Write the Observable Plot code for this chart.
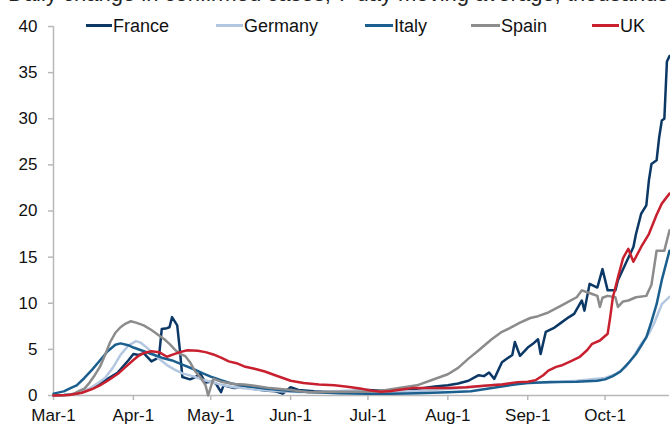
<!DOCTYPE html>
<html>
<head>
<meta charset="utf-8">
<script src="https://cdn.jsdelivr.net/npm/d3@7"></script>
<script src="https://cdn.jsdelivr.net/npm/@observablehq/plot@0.6"></script>
<style>
  html, body { margin: 0; padding: 0; background: #fff; overflow: hidden; }
  #wrap { position: relative; width: 670px; height: 426px; overflow: hidden; font-family: "Liberation Sans", Arial, sans-serif; }
  #title { position: absolute; left: 8px; top: -19px; font-size: 22px; line-height: 25px; color: #222; white-space: nowrap; }
  .leg { position: absolute; top: 16px; font-size: 18px; line-height: 20px; color: #111; white-space: nowrap; }
  .sw { position: absolute; height: 3px; }
  #chart { position: absolute; left: 0; top: 0; }
</style>
</head>
<body>
<div id="wrap">
  <div id="title"></div>
  <div id="chart"></div>
  <div id="legend"></div>
</div>
<script>
const title = "Daily change in confirmed cases, 7-day moving average, thousands";
const countries = ["France", "Germany", "Italy", "Spain", "UK"];
const colors = ["#0c3866", "#b4c7e0", "#1b5f8f", "#8c8c8c", "#c8202f"];
const tickDates = ["2020-03-01","2020-04-01","2020-05-01","2020-06-01","2020-07-01","2020-08-01","2020-09-01","2020-10-01"];
const tickLabels = ["Mar-1","Apr-1","May-1","Jun-1","Jul-1","Aug-1","Sep-1","Oct-1"];
const yTicks = [0, 5, 10, 15, 20, 25, 30, 35, 40];

const france = [["03-01",0.0],["03-05",0.05],["03-09",0.15],["03-12",0.35],["03-15",0.7],["03-19",1.27],["03-22",1.8],["03-26",2.5],["03-30",3.8],["04-01",4.5],["04-03",4.4],["04-05",4.6],["04-07",4.0],["04-08",3.7],["04-10",4.0],["04-11",4.4],["04-12",7.2],["04-14",7.3],["04-15",7.4],["04-16",8.5],["04-18",7.6],["04-19",5.0],["04-20",2.0],["04-23",1.75],["04-25",2.0],["04-27",2.35],["04-29",1.4],["05-01",1.5],["05-03",1.3],["05-05",0.36],["05-06",1.1],["05-10",0.8],["05-14",0.9],["05-18",0.7],["05-22",0.55],["05-26",0.45],["05-29",0.2],["06-01",0.9],["06-04",0.6],["06-10",0.45],["06-15",0.4],["06-20",0.45],["06-25",0.5],["07-01",0.6],["07-05",0.55],["07-10",0.5],["07-15",0.6],["07-20",0.7],["07-27",0.97],["08-01",1.1],["08-05",1.3],["08-09",1.6],["08-11",1.9],["08-13",2.2],["08-15",2.1],["08-17",2.5],["08-19",1.8],["08-22",3.6],["08-24",4.0],["08-26",4.4],["08-27",5.8],["08-29",4.3],["09-01",5.2],["09-03",5.6],["09-05",6.1],["09-06",4.5],["09-08",6.9],["09-11",7.3],["09-14",7.9],["09-17",8.5],["09-19",8.85],["09-22",10.3],["09-23",9.2],["09-25",12.1],["09-28",11.7],["09-30",13.7],["10-02",11.4],["10-05",11.4],["10-06",12.5],["10-09",14.3],["10-12",16.1],["10-13",17.5],["10-15",19.7],["10-17",20.6],["10-18",23.3],["10-19",25.1],["10-21",25.5],["10-22",28.0],["10-23",29.8],["10-24",30.0],["10-25",36.2],["10-26",36.8]];

const germany = [["03-01",0.0],["03-06",0.05],["03-10",0.2],["03-14",0.6],["03-18",1.3],["03-21",1.9],["03-24",3.0],["03-27",4.4],["03-30",5.4],["04-02",5.9],["04-04",5.7],["04-07",5.0],["04-10",4.2],["04-14",3.3],["04-17",2.8],["04-20",2.4],["04-24",2.1],["04-28",1.7],["05-02",1.4],["05-06",1.1],["05-10",0.9],["05-15",0.75],["05-20",0.6],["05-26",0.5],["06-01",0.4],["06-10",0.35],["06-20",0.5],["06-25",0.55],["07-01",0.45],["07-10",0.4],["07-20",0.5],["08-01",0.7],["08-10",0.9],["08-20",1.2],["09-01",1.35],["09-10",1.4],["09-20",1.6],["10-01",1.9],["10-05",2.3],["10-09",3.1],["10-12",4.2],["10-15",5.6],["10-18",6.7],["10-20",7.8],["10-23",9.9],["10-26",10.7]];

const italy = [["03-01",0.2],["03-05",0.45],["03-08",0.85],["03-10",1.1],["03-13",1.9],["03-16",2.8],["03-19",3.8],["03-22",4.8],["03-25",5.5],["03-27",5.65],["03-30",5.45],["04-01",5.2],["04-04",4.9],["04-08",4.5],["04-12",4.1],["04-16",3.8],["04-20",3.35],["04-24",2.9],["04-28",2.4],["05-01",2.05],["05-05",1.65],["05-09",1.3],["05-13",1.1],["05-17",0.95],["05-22",0.75],["06-01",0.5],["06-10",0.35],["06-20",0.25],["07-01",0.2],["07-10",0.2],["07-20",0.25],["08-01",0.35],["08-10",0.45],["08-20",0.9],["08-27",1.2],["09-01",1.35],["09-10",1.45],["09-20",1.5],["09-28",1.6],["10-01",1.75],["10-04",2.1],["10-07",2.6],["10-10",3.5],["10-13",4.5],["10-17",6.3],["10-19",8.0],["10-21",9.9],["10-23",12.5],["10-26",15.7]];

const spain = [["03-01",0.0],["03-06",0.05],["03-09",0.2],["03-11",0.5],["03-13",0.75],["03-15",1.4],["03-17",2.2],["03-19",3.1],["03-21",4.4],["03-23",5.8],["03-25",6.8],["03-27",7.4],["03-29",7.8],["03-31",8.05],["04-02",7.9],["04-05",7.6],["04-08",7.1],["04-10",6.7],["04-13",6.1],["04-15",5.6],["04-17",5.0],["04-19",4.5],["04-21",4.3],["04-23",3.6],["04-25",2.6],["04-27",2.0],["04-29",1.1],["04-30",0.0],["05-02",1.8],["05-05",1.5],["05-10",1.25],["05-14",1.2],["05-18",1.05],["05-24",0.8],["06-01",0.6],["06-08",0.36],["06-20",0.4],["07-01",0.4],["07-08",0.6],["07-15",0.9],["07-20",1.1],["07-25",1.6],["08-01",2.3],["08-05",3.0],["08-09",4.0],["08-13",4.9],["08-18",6.1],["08-22",6.9],["08-25",7.3],["08-29",7.9],["09-02",8.4],["09-05",8.6],["09-09",9.0],["09-14",9.75],["09-17",10.2],["09-20",10.65],["09-22",11.4],["09-26",11.0],["09-28",10.8],["09-29",9.6],["09-30",10.6],["10-02",10.8],["10-05",10.65],["10-06",9.6],["10-08",10.2],["10-10",10.3],["10-13",10.65],["10-17",10.8],["10-19",12.0],["10-21",15.7],["10-24",15.7],["10-26",17.9]];

const uk = [["03-01",0.0],["03-07",0.05],["03-12",0.3],["03-16",0.7],["03-19",1.1],["03-22",1.6],["03-26",2.35],["03-29",3.1],["04-01",3.85],["04-03",4.3],["04-05",4.6],["04-08",4.8],["04-11",4.7],["04-14",4.2],["04-16",4.4],["04-19",4.7],["04-22",4.9],["04-26",4.85],["04-29",4.7],["05-02",4.45],["05-05",4.1],["05-08",3.7],["05-11",3.5],["05-14",3.15],["05-18",2.9],["05-22",2.6],["05-26",2.2],["06-01",1.6],["06-06",1.35],["06-12",1.2],["06-18",1.1],["06-23",0.95],["06-28",0.75],["07-02",0.55],["07-06",0.4],["07-10",0.5],["07-14",0.65],["07-18",0.8],["07-25",0.8],["08-01",0.8],["08-08",0.9],["08-15",1.05],["08-22",1.2],["08-28",1.45],["09-01",1.5],["09-04",1.65],["09-07",2.2],["09-09",2.7],["09-12",3.1],["09-14",3.25],["09-18",3.75],["09-21",4.15],["09-24",4.9],["09-26",5.6],["09-29",5.96],["10-02",6.7],["10-03",8.5],["10-04",10.6],["10-06",12.8],["10-08",14.9],["10-10",15.9],["10-12",14.5],["10-15",16.1],["10-18",17.5],["10-21",19.6],["10-23",20.8],["10-26",21.9]];

const seriesData = [france, germany, italy, spain, uk];

const parse = d3.utcParse("%Y-%m-%d");
const rows = [];
seriesData.forEach((arr, i) => {
  for (const [d, v] of arr) rows.push({country: countries[i], date: parse("2020-" + d), value: v});
});
const ticks = tickDates.map(parse);
const start = parse("2020-03-01");
const end = parse("2020-10-26");
const axisGray = "#b8b8b8";

const chart = Plot.plot({
  width: 670,
  height: 426,
  marginLeft: 53,
  marginRight: 1,
  marginTop: 26,
  marginBottom: 31,
  style: {fontFamily: "'Liberation Sans', Arial, sans-serif", fontSize: "17px", background: "transparent"},
  x: {type: "utc", domain: [start, end], label: null},
  y: {domain: [0, 40], label: null},
  color: {domain: countries, range: colors},
  marks: [
    Plot.axisY(yTicks, {tickSize: 5, tickPadding: 11, stroke: axisGray, fill: "#111", strokeWidth: 1.5, label: null, fontSize: 17}),
    Plot.axisX(ticks, {tickSize: 5, tickPadding: 8, stroke: axisGray, fill: "#111", strokeWidth: 1.5, label: null, fontSize: 17,
      tickFormat: (d) => tickLabels[ticks.findIndex(t => +t === +d)]}),
    Plot.ruleY([0], {stroke: axisGray, strokeWidth: 1.5}),
    Plot.ruleX([start], {y1: 0, y2: 40, stroke: axisGray, strokeWidth: 1.5}),
    Plot.line(rows, {x: "date", y: "value", z: "country", stroke: "country", strokeWidth: 2.5, curve: "linear"})
  ]
});
document.getElementById("chart").appendChild(chart);
document.getElementById("title").textContent = title;

const legPos = [[86, 113], [216, 244], [365, 394], [471, 501], [592, 620]];
const legend = document.getElementById("legend");
countries.forEach((c, i) => {
  const sw = document.createElement("div");
  sw.className = "sw";
  sw.style.left = legPos[i][0] + "px";
  sw.style.width = (legPos[i][1] - legPos[i][0] - 1) + "px";
  sw.style.background = colors[i];
  sw.style.top = "24px";
  legend.appendChild(sw);
  const t = document.createElement("div");
  t.className = "leg";
  t.style.left = legPos[i][1] + "px";
  t.textContent = c;
  legend.appendChild(t);
});
</script>
</body>
</html>
